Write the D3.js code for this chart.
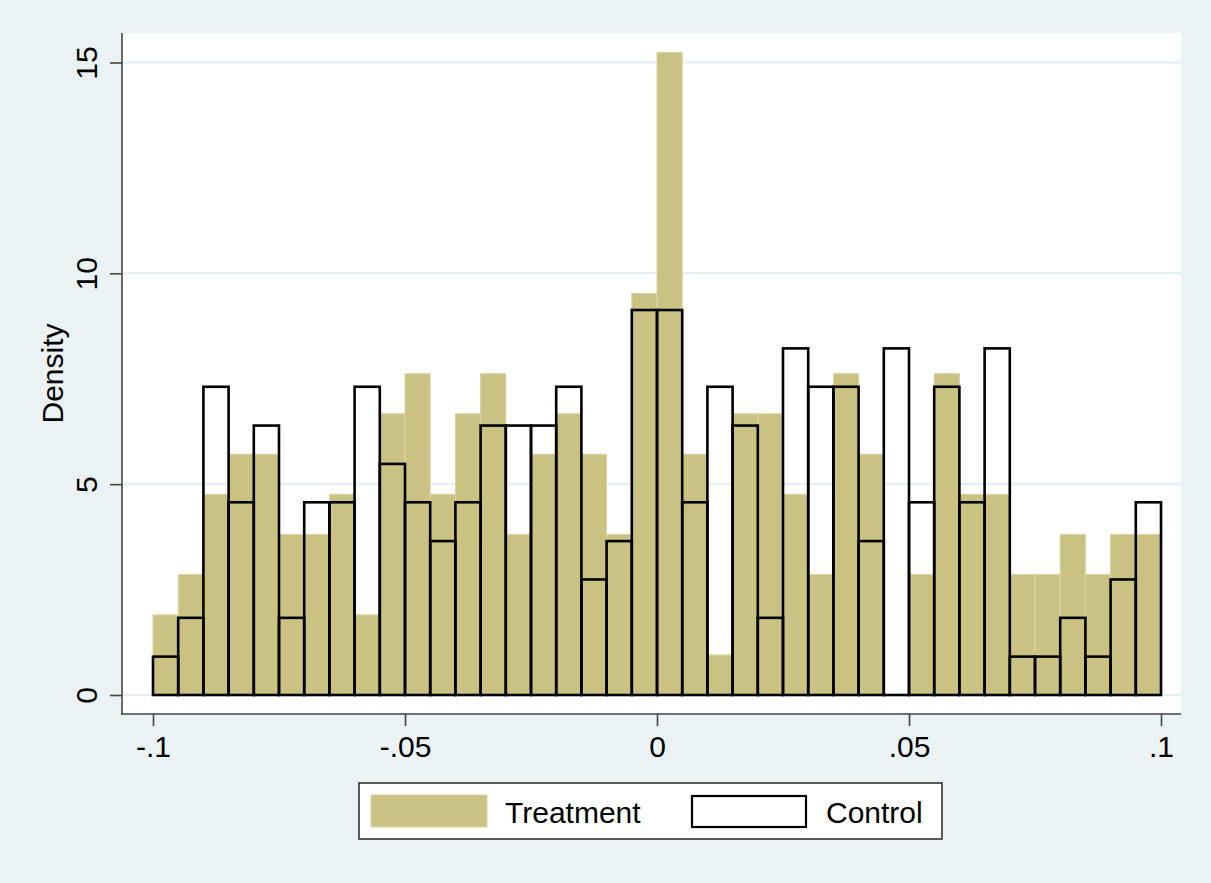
<!DOCTYPE html>
<html>
<head>
<meta charset="utf-8">
<script src="https://cdn.jsdelivr.net/npm/d3@7"></script>
<style>
  html, body { margin: 0; padding: 0; background: #eaf2f3; }
  svg { display: block; }
  text { font-family: "Liberation Sans", Arial, Helvetica, sans-serif; fill: #000; }
</style>
</head>
<body>
<svg id="chart" width="1211" height="883"></svg>
<script>
// ---- data ----
const binStart = -0.1;
const binWidth = 0.005;
const treatment = [1.90,2.86,4.76,5.71,5.71,3.81,3.81,4.76,1.90,6.67,
                   7.62,4.76,6.67,7.62,3.81,5.71,6.67,5.71,3.81,9.52,
                   15.24,5.71,0.95,6.67,6.67,4.76,2.86,7.62,5.71,0,
                   2.86,7.62,4.76,4.76,2.86,2.86,3.81,2.86,3.81,3.81];
const control = [0.91,1.83,7.31,4.57,6.39,1.83,4.57,4.57,7.31,5.48,
                 4.57,3.65,4.57,6.39,6.39,6.39,7.31,2.74,3.65,9.13,
                 9.13,4.57,7.31,6.39,1.83,8.22,7.31,7.31,3.65,8.22,
                 4.57,7.31,4.57,8.22,0.91,0.91,1.83,0.91,2.74,4.57];
const xTicks = [-0.1, -0.05, 0, 0.05, 0.1];
const xTickLabels = ["-.1", "-.05", "0", ".05", ".1"];
const yTicks = [0, 5, 10, 15];
const yTickLabels = ["0", "5", "10", "15"];
const seriesNames = ["Treatment", "Control"];
const yTitle = "Density";

// ---- layout ----
const svg = d3.select("#chart");
const W = 1211, H = 883;
const plot = { left: 122, right: 1181, top: 33, bottom: 714 };
const khaki = "#cac283";
const khakiEdge = "#d9d4a3";
const fs = "30px";

svg.append("rect").attr("x", 0).attr("y", 0).attr("width", W).attr("height", H).attr("fill", "#eaf2f3");
svg.append("rect").attr("x", plot.left).attr("y", plot.top)
   .attr("width", plot.right - plot.left).attr("height", plot.bottom - plot.top)
   .attr("fill", "#ffffff");

const x = d3.scaleLinear().domain([-0.1, 0.1]).range([153, 1161]);
const y = d3.scaleLinear().domain([0, 15]).range([695, 62.5]);

// gridlines
svg.append("g").selectAll("line").data(yTicks).join("line")
  .attr("x1", plot.left).attr("x2", plot.right)
  .attr("y1", d => y(d)).attr("y2", d => y(d))
  .attr("stroke", "#e4eef1").attr("stroke-width", 2);

const bins = treatment.map((t, i) => ({
  x0: binStart + i * binWidth,
  x1: binStart + (i + 1) * binWidth,
  t: t,
  c: control[i]
}));

// treatment bars
svg.append("g").selectAll("rect").data(bins.filter(b => b.t > 0)).join("rect")
  .attr("x", d => x(d.x0)).attr("width", d => x(d.x1) - x(d.x0))
  .attr("y", d => y(d.t)).attr("height", d => y(0) - y(d.t))
  .attr("fill", khaki).attr("stroke", khakiEdge).attr("stroke-width", 1);

// control bars (outline)
svg.append("g").selectAll("rect").data(bins).join("rect")
  .attr("x", d => x(d.x0)).attr("width", d => x(d.x1) - x(d.x0))
  .attr("y", d => y(d.c)).attr("height", d => y(0) - y(d.c))
  .attr("fill", "none").attr("stroke", "#000").attr("stroke-width", 2.6);

// axis lines
svg.append("line").attr("x1", plot.left).attr("x2", plot.left)
  .attr("y1", plot.top).attr("y2", plot.bottom + 0.75)
  .attr("stroke", "#444").attr("stroke-width", 1.6);
svg.append("line").attr("x1", plot.left - 0.75).attr("x2", plot.right)
  .attr("y1", plot.bottom).attr("y2", plot.bottom)
  .attr("stroke", "#444").attr("stroke-width", 1.6);

// y axis
const yAxis = d3.axisLeft(y).tickValues(yTicks).tickSize(12).tickPadding(0)
  .tickFormat((d, i) => yTickLabels[i]);
const gy = svg.append("g").attr("transform", `translate(${plot.left},0)`).call(yAxis);
gy.select(".domain").remove();
gy.selectAll(".tick line").attr("stroke", "#444").attr("stroke-width", 1.6);
gy.selectAll(".tick text")
  .attr("x", null).attr("dy", null)
  .attr("transform", "translate(-25,0) rotate(-90)")
  .attr("text-anchor", "middle")
  .style("font-size", fs)
  .style("font-family", "'Liberation Sans', Arial, sans-serif")
  .attr("fill", "#000");

// x axis
const xAxis = d3.axisBottom(x).tickValues(xTicks).tickSize(12).tickPadding(0)
  .tickFormat((d, i) => xTickLabels[i]);
const gx = svg.append("g").attr("transform", `translate(0,${plot.bottom})`).call(xAxis);
gx.select(".domain").remove();
gx.selectAll(".tick line").attr("stroke", "#444").attr("stroke-width", 1.6);
gx.selectAll(".tick text")
  .attr("y", 43).attr("dy", null)
  .attr("text-anchor", "middle")
  .style("font-size", fs)
  .style("font-family", "'Liberation Sans', Arial, sans-serif")
  .attr("fill", "#000");

// y title
svg.append("text")
  .attr("transform", `translate(63,${(plot.top + plot.bottom) / 2}) rotate(-90)`)
  .attr("text-anchor", "middle")
  .style("font-size", fs)
  .text(yTitle);

// legend
const lg = svg.append("g");
lg.append("rect").attr("x", 359).attr("y", 783).attr("width", 583).attr("height", 56)
  .attr("fill", "#fff").attr("stroke", "#333").attr("stroke-width", 1.6);
lg.append("rect").attr("x", 371).attr("y", 795).attr("width", 116).attr("height", 32)
  .attr("fill", khaki).attr("stroke", khakiEdge).attr("stroke-width", 1);
lg.append("text").attr("x", 505).attr("y", 823).style("font-size", fs).text(seriesNames[0]);
lg.append("rect").attr("x", 692).attr("y", 796).attr("width", 114).attr("height", 31)
  .attr("fill", "#fff").attr("stroke", "#000").attr("stroke-width", 2.2);
lg.append("text").attr("x", 826).attr("y", 823).style("font-size", fs).text(seriesNames[1]);
</script>
</body>
</html>
